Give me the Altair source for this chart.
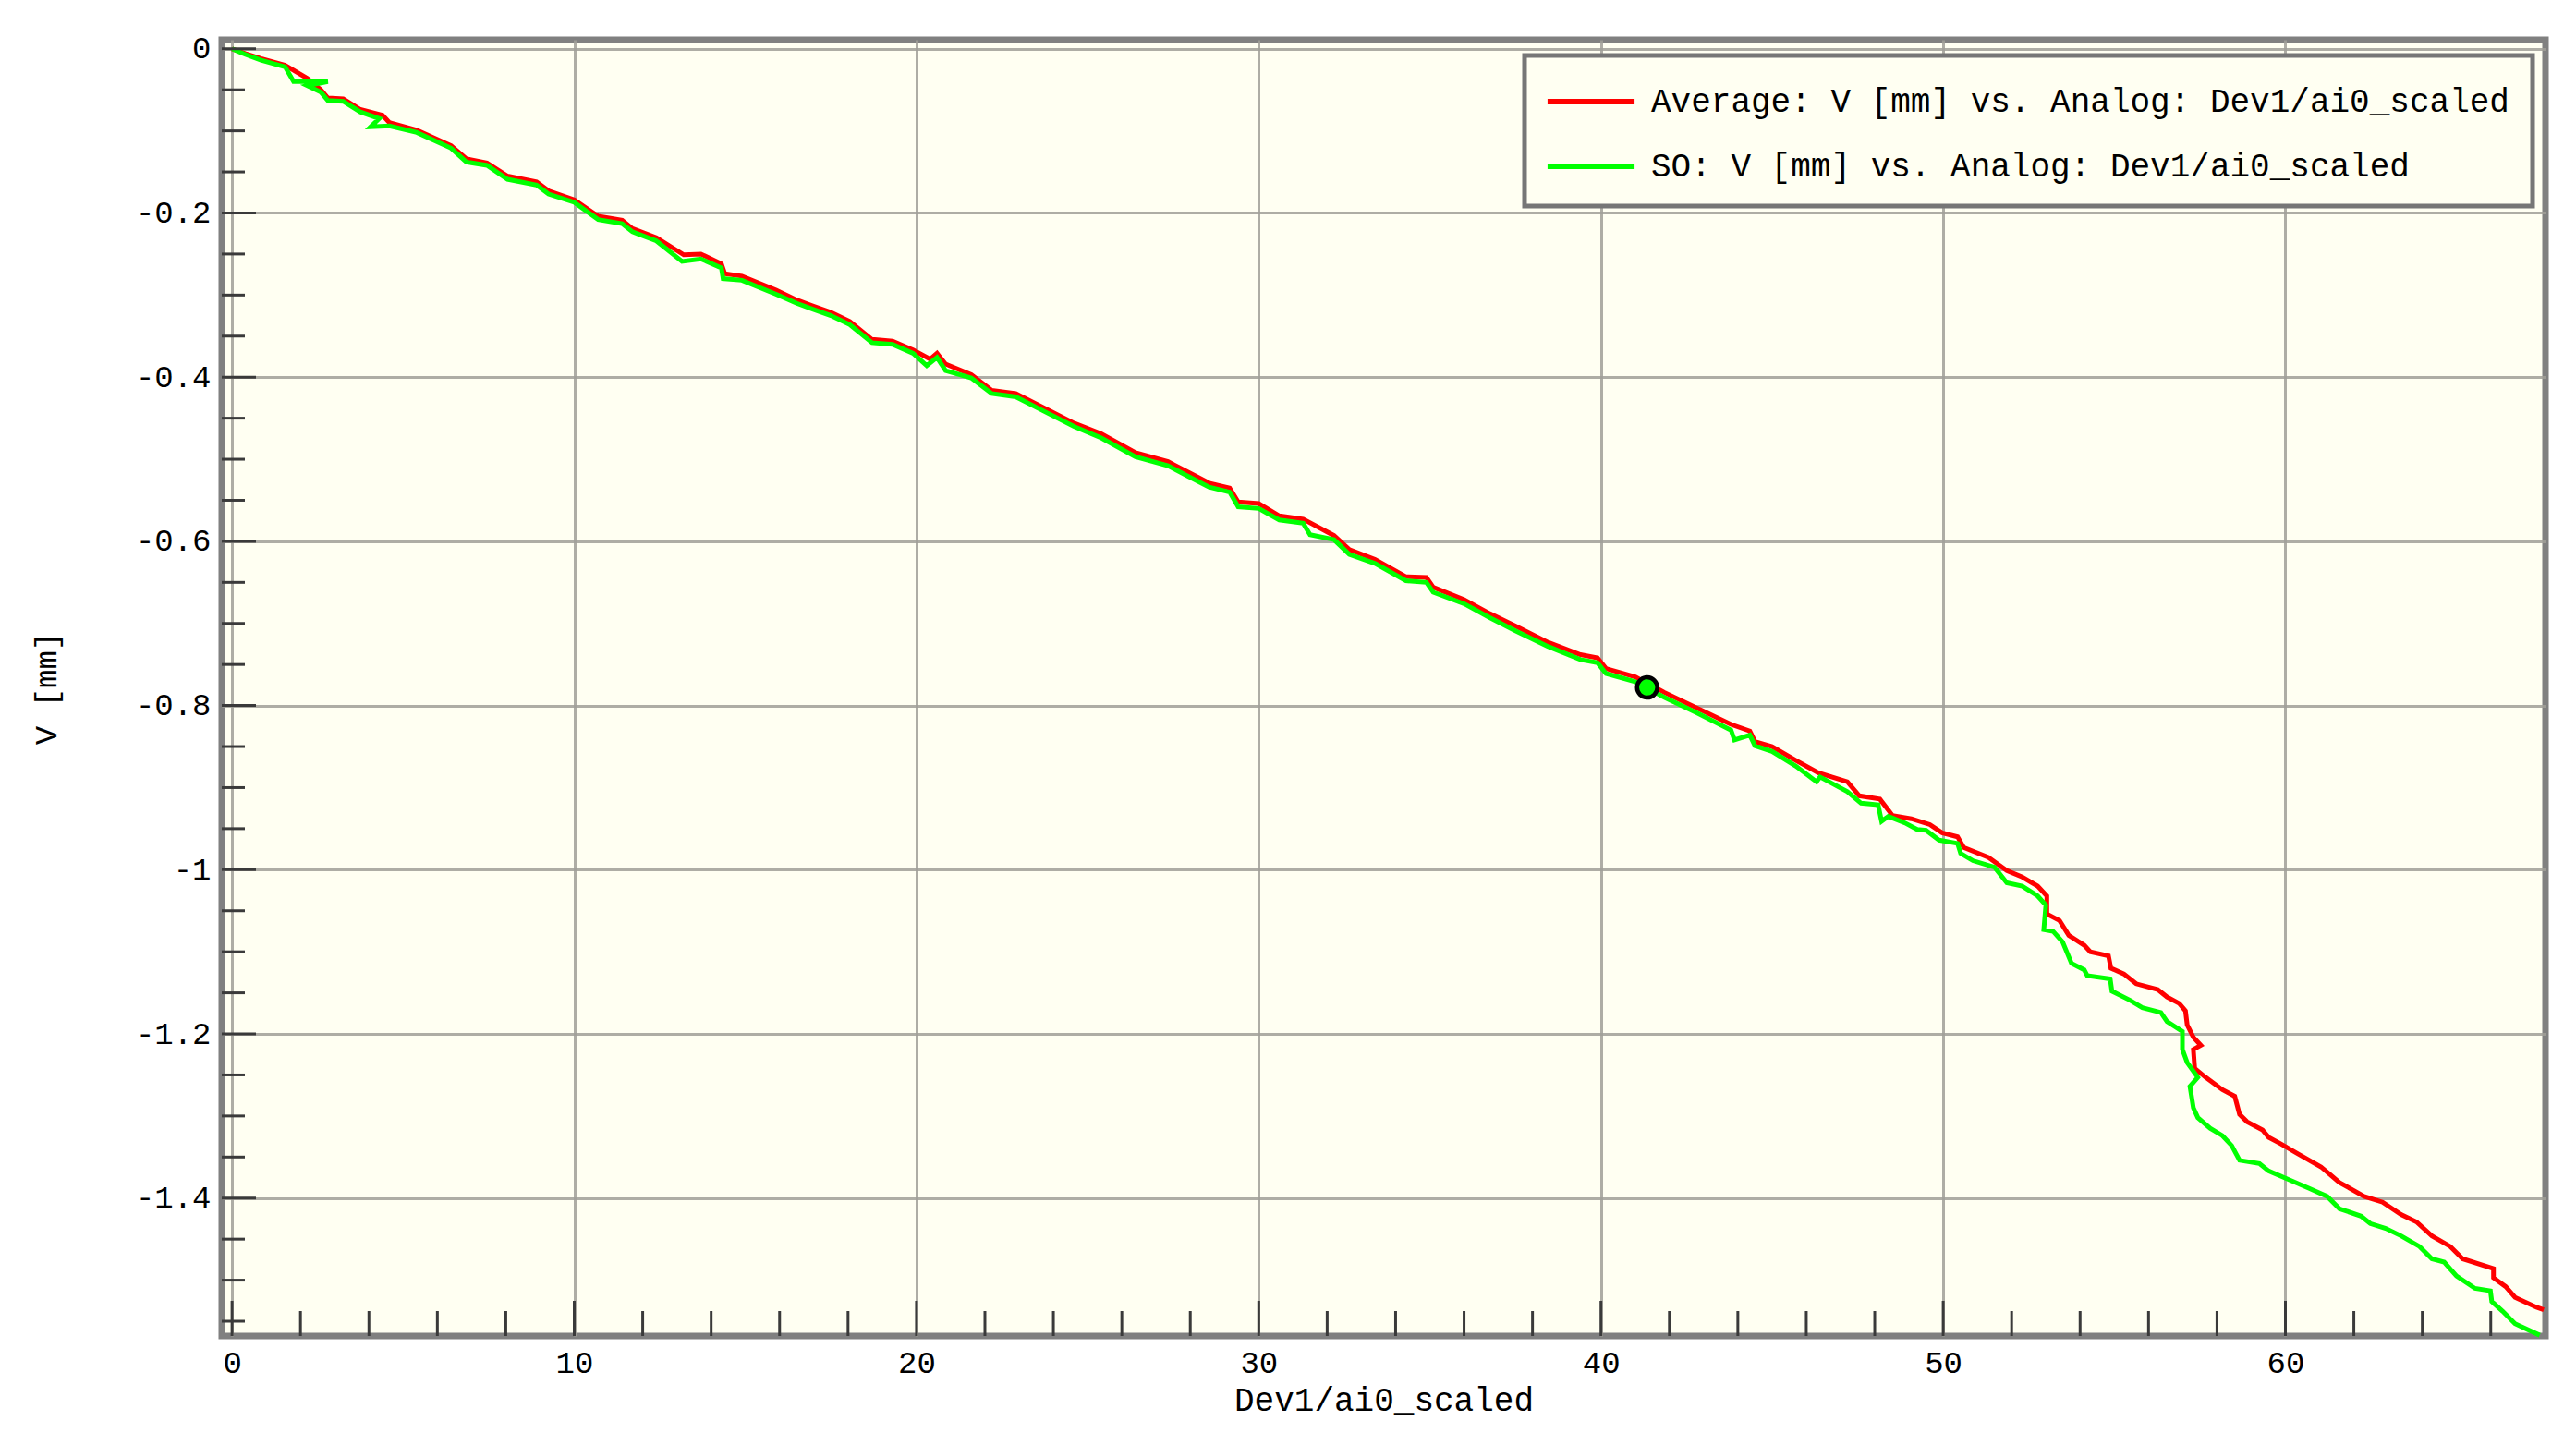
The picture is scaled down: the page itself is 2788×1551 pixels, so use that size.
import altair as alt
import pandas as pd

# ---------------- data ----------------
series_names = [
    "Average: V [mm] vs. Analog: Dev1/ai0_scaled",
    "SO: V [mm] vs. Analog: Dev1/ai0_scaled",
]
series_colors = ["#FF0000", "#00FF00"]

avg_x = [0, 0.4, 0.85, 1.55, 2.2, 2.6, 2.8, 3.25, 3.75, 4.4, 4.6, 5.4, 6.4, 6.85, 7.45,
         8.05, 8.9, 9.25, 10.0, 10.7, 11.4, 11.7, 12.4, 13.2, 13.7, 14.3, 14.4, 14.9,
         15.9, 16.5, 16.95, 17.5, 18.05, 18.7, 19.3, 19.9, 20.4, 20.6, 20.85, 21.6,
         22.2, 22.9, 23.7, 24.6, 25.4, 26.4, 27.35, 27.95, 28.55, 29.15, 29.4, 30.0,
         30.6, 31.3, 32.2, 32.65, 33.4, 34.3, 34.9, 35.1, 36.0, 36.75, 37.5, 38.45,
         39.4, 39.9, 40.15, 41.0, 41.85, 42.8, 43.8, 44.35, 44.5, 45.0, 45.7, 46.35,
         47.2, 47.55, 48.15, 48.52, 49.07, 49.61, 49.97, 50.42, 50.6, 51.32, 51.86,
         52.31, 52.76, 53.03, 53.03, 53.4, 53.67, 54.12, 54.3, 54.83, 54.9, 55.28,
         55.64, 56.27, 56.54, 56.9, 57.08, 57.13, 57.31, 57.53, 57.31, 57.35, 57.67,
         58.16, 58.52, 58.66, 58.88, 59.33, 59.51, 59.87, 60.32, 61.04, 61.58, 62.3,
         62.84, 63.38, 63.83, 64.28, 64.82, 65.18, 66.08, 66.08, 66.44, 66.71, 67.34,
         67.55]
avg_y = [0, -0.006, -0.012, -0.02, -0.036, -0.05, -0.06, -0.061, -0.074, -0.081, -0.09,
         -0.099, -0.118, -0.134, -0.139, -0.155, -0.162, -0.173, -0.184, -0.204, -0.209,
         -0.219, -0.23, -0.251, -0.25, -0.262, -0.274, -0.277, -0.294, -0.306, -0.313,
         -0.321, -0.332, -0.354, -0.356, -0.367, -0.378, -0.371, -0.384, -0.397, -0.416,
         -0.42, -0.437, -0.456, -0.469, -0.492, -0.503, -0.516, -0.529, -0.535, -0.552,
         -0.554, -0.569, -0.573, -0.593, -0.61, -0.622, -0.643, -0.644, -0.656, -0.671,
         -0.688, -0.703, -0.723, -0.738, -0.742, -0.755, -0.765, -0.784, -0.803, -0.823,
         -0.831, -0.844, -0.85, -0.867, -0.882, -0.893, -0.91, -0.914, -0.934, -0.938,
         -0.945, -0.955, -0.96, -0.973, -0.985, -1.001, -1.009, -1.02, -1.032, -1.054,
         -1.062, -1.08, -1.092, -1.1, -1.105, -1.12, -1.127, -1.139, -1.146, -1.155,
         -1.163, -1.172, -1.189, -1.204, -1.214, -1.219, -1.242, -1.253, -1.268, -1.276,
         -1.298, -1.307, -1.317, -1.326, -1.334, -1.345, -1.362, -1.381, -1.398, -1.405,
         -1.42, -1.429, -1.446, -1.459, -1.474, -1.486, -1.497, -1.508, -1.521, -1.533,
         -1.536]

so_x = [0, 0.4, 0.85, 1.55, 1.8, 2.8, 2.2, 2.6, 2.8, 3.25, 3.75, 4.3, 4.05, 4.6, 5.4,
        6.4, 6.85, 7.45, 8.05, 8.9, 9.25, 10.0, 10.7, 11.4, 11.7, 12.4, 13.15, 13.7,
        14.3, 14.35, 14.9, 15.9, 16.5, 16.95, 17.5, 18.05, 18.7, 19.3, 19.9, 20.3, 20.6,
        20.85, 21.6, 22.2, 22.9, 23.7, 24.6, 25.4, 26.4, 27.35, 27.95, 28.55, 29.15,
        29.4, 30.0, 30.6, 31.3, 31.5, 32.2, 32.65, 33.4, 34.3, 34.9, 35.1, 36.0, 36.75,
        37.5, 38.45, 39.4, 39.9, 40.15, 41.0, 41.85, 42.8, 43.8, 43.9, 44.35, 44.5, 45.0,
        45.7, 46.3, 46.4, 47.2, 47.6, 48.1, 48.2, 48.4, 48.88, 49.24, 49.5, 49.88, 50.42,
        50.51, 50.87, 51.5, 51.86, 52.31, 52.76, 53.0, 52.94, 53.21, 53.49, 53.75, 54.12,
        54.21, 54.88, 54.93, 55.46, 55.82, 56.36, 56.54, 56.99, 56.99, 57.13, 57.44,
        57.21, 57.31, 57.44, 57.8, 58.16, 58.43, 58.66, 59.24, 59.51, 59.96, 60.68,
        61.22, 61.58, 62.21, 62.48, 62.93, 63.38, 63.92, 64.28, 64.64, 65.0, 65.54,
        65.99, 66.03, 66.35, 66.71, 67.43]
so_y = [0, -0.007, -0.014, -0.022, -0.04, -0.04, -0.045, -0.053, -0.063, -0.064, -0.077,
        -0.085, -0.095, -0.094, -0.102, -0.121, -0.138, -0.142, -0.159, -0.166, -0.177,
        -0.187, -0.208, -0.213, -0.223, -0.234, -0.259, -0.256, -0.267, -0.28, -0.282,
        -0.299, -0.31, -0.317, -0.325, -0.336, -0.358, -0.36, -0.371, -0.386, -0.376,
        -0.392, -0.401, -0.42, -0.424, -0.441, -0.46, -0.474, -0.497, -0.508, -0.521,
        -0.534, -0.54, -0.558, -0.56, -0.574, -0.578, -0.592, -0.598, -0.616, -0.627,
        -0.648, -0.65, -0.662, -0.676, -0.693, -0.709, -0.728, -0.744, -0.748, -0.761,
        -0.771, -0.79, -0.809, -0.83, -0.842, -0.836, -0.849, -0.856, -0.874, -0.893,
        -0.887, -0.905, -0.919, -0.921, -0.941, -0.935, -0.943, -0.951, -0.952, -0.964,
        -0.968, -0.98, -0.989, -0.997, -1.016, -1.02, -1.032, -1.043, -1.073, -1.075,
        -1.088, -1.114, -1.122, -1.129, -1.133, -1.148, -1.159, -1.168, -1.174, -1.185,
        -1.197, -1.219, -1.235, -1.253, -1.264, -1.29, -1.302, -1.315, -1.324, -1.336,
        -1.354, -1.358, -1.367, -1.375, -1.388, -1.398, -1.413, -1.422, -1.431, -1.437,
        -1.446, -1.459, -1.474, -1.478, -1.495, -1.51, -1.513, -1.526, -1.538, -1.553,
        -1.567]

cursor_x = [41.35]
cursor_y = [-0.778]

x_major = [0, 10, 20, 30, 40, 50, 60]
x_minor = [2, 4, 6, 8, 12, 14, 16, 18, 22, 24, 26, 28, 32, 34, 36, 38, 42, 44, 46, 48,
           52, 54, 56, 58, 62, 64, 66]
y_major = [0, -0.2, -0.4, -0.6, -0.8, -1.0, -1.2, -1.4]
y_minor = [-0.05, -0.1, -0.15, -0.25, -0.3, -0.35, -0.45, -0.5, -0.55, -0.65, -0.7,
           -0.75, -0.85, -0.9, -0.95, -1.05, -1.1, -1.15, -1.25, -1.3, -1.35, -1.45,
           -1.5, -1.55]

# ---------------- build tables ----------------
rows = []
for i, (xv, yv) in enumerate(zip(avg_x, avg_y)):
    rows.append({"x": xv, "y": yv, "series": series_names[0], "idx": i})
for i, (xv, yv) in enumerate(zip(so_x, so_y)):
    rows.append({"x": xv, "y": yv, "series": series_names[1], "idx": i})
lines_df = pd.DataFrame(rows)

W, H = 2515, 1403
FONT = "Liberation Mono"

xs = alt.Scale(domain=[-0.3, 67.6], nice=False, zero=False)
ys = alt.Scale(domain=[-1.568, 0.011], nice=False, zero=False)

x_axis = alt.Axis(
    values=x_major, format="d", title="Dev1/ai0_scaled", grid=True,
    gridColor="#A09F98", gridWidth=3, gridOpacity=0.85,
    ticks=False, domain=False, labelPadding=12, labelFont=FONT, labelFontSize=34,
    labelColor="#000000", titleFont=FONT, titleFontSize=36, titleFontWeight="normal",
    titleColor="#000000", titlePadding=6,
)
y_axis = alt.Axis(
    values=y_major, title="V [mm]", grid=True,
    gridColor="#A09F98", gridWidth=3, gridOpacity=0.85,
    labelExpr="datum.value < 0 ? '-' + format(-datum.value, '~g') : format(datum.value, '~g')",
    ticks=False, domain=False, labelPadding=12, labelFont=FONT, labelFontSize=34,
    labelColor="#000000", titleFont=FONT, titleFontSize=34, titleFontWeight="normal",
    titleColor="#000000", titlePadding=79,
)

lines = alt.Chart(lines_df).mark_line(strokeWidth=5).encode(
    x=alt.X("x:Q", scale=xs, axis=x_axis),
    y=alt.Y("y:Q", scale=ys, axis=y_axis),
    color=alt.Color(
        "series:N",
        scale=alt.Scale(domain=series_names, range=series_colors),
        legend=alt.Legend(
            title=None, orient="none", legendX=1410, legendY=17,
            symbolType="M-1.14,0H3.14", symbolStrokeWidth=6, symbolSize=1936,
            labelFont=FONT, labelFontSize=36, labelLimit=3000, labelOffset=62,
            labelColor="#000000", padding=25, rowPadding=27,
            fillColor="#FFFFF2", strokeColor="#767676",
        ),
    ),
    order=alt.Order("idx:Q"),
)

cursor = alt.Chart(pd.DataFrame({"x": cursor_x, "y": cursor_y})).mark_point(
    filled=True, shape="circle", size=480, fill="#00FF00", stroke="#000000",
    strokeWidth=4.5, opacity=1,
).encode(x=alt.X("x:Q", scale=xs), y=alt.Y("y:Q", scale=ys))

tick_color = "#3A3A3A"
xt_major = alt.Chart(pd.DataFrame({"x": x_major})).mark_rule(
    color=tick_color, strokeWidth=3).encode(
    x=alt.X("x:Q", scale=xs), y=alt.value(H - 38), y2=alt.value(H))
xt_minor = alt.Chart(pd.DataFrame({"x": x_minor})).mark_rule(
    color=tick_color, strokeWidth=3).encode(
    x=alt.X("x:Q", scale=xs), y=alt.value(H - 27), y2=alt.value(H))
yt_major = alt.Chart(pd.DataFrame({"y": y_major})).mark_rule(
    color=tick_color, strokeWidth=3).encode(
    y=alt.Y("y:Q", scale=ys), x=alt.value(0), x2=alt.value(37))
yt_minor = alt.Chart(pd.DataFrame({"y": y_minor})).mark_rule(
    color=tick_color, strokeWidth=3).encode(
    y=alt.Y("y:Q", scale=ys), x=alt.value(0), x2=alt.value(25))

chart = alt.layer(lines, xt_major, xt_minor, yt_major, yt_minor, cursor).properties(
    width=W, height=H,
    padding={"left": 232, "top": 35, "right": 20, "bottom": 90},
    autosize=alt.AutoSizeParams(type="none"),
    background="#FFFFFF",
).configure_view(
    fill="#FFFFF2", stroke="#808080", strokeWidth=7,
).configure_legend(
    strokeWidth=5,
)

chart.save("out.html", embed_options={"renderer": "svg", "actions": False})
